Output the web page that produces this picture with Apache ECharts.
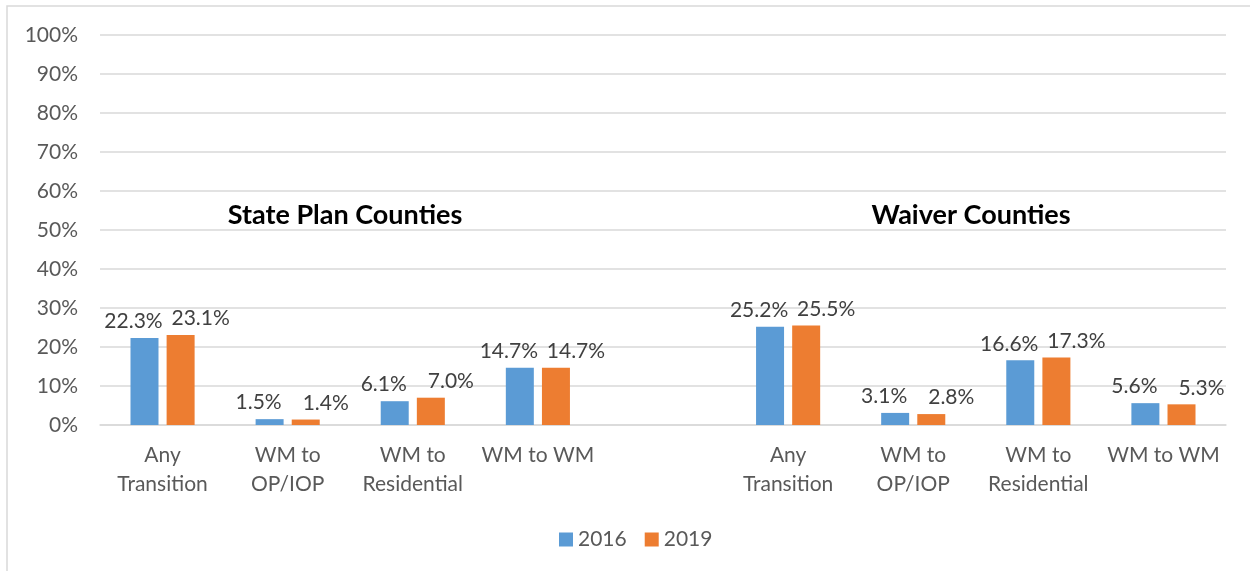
<!DOCTYPE html>
<html>
<head>
<meta charset="utf-8">
<script src="https://cdn.jsdelivr.net/npm/echarts@6/dist/echarts.min.js"></script>
<style>
  html, body { margin: 0; padding: 0; background: #fff; }
  #chart { width: 1250px; height: 571px; }
</style>
</head>
<body>
<div id="chart"></div>
<script>
// categories (5th slot is the empty gap between the two county groups)
var categories = [
  "Any\nTransition", "WM to\nOP/IOP", "WM to\nResidential", "WM to WM",
  "",
  "Any\nTransition", "WM to\nOP/IOP", "WM to\nResidential", "WM to WM"
];
var values2016 = [22.3, 1.5, 6.1, 14.7, null, 25.2, 3.1, 16.6, 5.6];
var values2019 = [23.1, 1.4, 7.0, 14.7, null, 25.5, 2.8, 17.3, 5.3];
var groupTitles = ["State Plan Counties", "Waiver Counties"];

var FONT = "Lato, 'Open Sans', sans-serif";

var chart = echarts.init(document.getElementById("chart"));

var option = {
  animation: false,
  textStyle: { fontFamily: FONT },
  grid: { left: 100, right: 24, top: 35, bottom: 146 },
  legend: {
    data: ["2016", "2019"],
    bottom: 16,
    left: 554,
    itemWidth: 14,
    itemHeight: 14,
    itemGap: 18,
    icon: "rect",
    textStyle: { fontSize: 21, color: "#595959", fontFamily: FONT }
  },
  xAxis: {
    type: "category",
    data: categories,
    axisTick: { show: false },
    axisLine: { lineStyle: { color: "#d9d9d9", width: 1.5 } },
    axisLabel: {
      interval: 0,
      margin: 16,
      fontSize: 21,
      lineHeight: 29,
      color: "#595959"
    }
  },
  yAxis: {
    type: "value",
    min: 0,
    max: 100,
    interval: 10,
    axisLine: { show: false },
    axisTick: { show: false },
    splitLine: { lineStyle: { color: "#d9d9d9", width: 1.5 } },
    axisLabel: {
      margin: 22,
      fontSize: 21,
      color: "#595959",
      formatter: "{value}%"
    }
  },
  series: [
    {
      name: "2016",
      type: "bar",
      data: values2016,
      barWidth: 28,
      barGap: "29%",
      itemStyle: { color: "#5b9bd5" },
      label: {
        show: true,
        position: "top",
        distance: 6,
        offset: [-11, 0],
        fontSize: 21,
        color: "#404040",
        formatter: function (p) { return p.value.toFixed(1) + "%"; }
      }
    },
    {
      name: "2019",
      type: "bar",
      data: values2019,
      barWidth: 28,
      itemStyle: { color: "#ed7d31" },
      label: {
        show: true,
        position: "top",
        distance: 6,
        offset: [20, 0],
        fontSize: 21,
        color: "#404040",
        formatter: function (p) { return p.value.toFixed(1) + "%"; }
      }
    }
  ],
  graphic: [
    // outer chart border
    {
      type: "rect",
      shape: { x: 7, y: 6, width: 1400, height: 700 },
      style: { fill: "none", stroke: "#d9d9d9", lineWidth: 1.5 },
      silent: true
    },
    {
      type: "text",
      x: 345,
      y: 215,
      style: {
        text: groupTitles[0],
        fontSize: 27,
        fontWeight: "bold",
        fontFamily: FONT,
        fill: "#000",
        align: "center",
        verticalAlign: "middle"
      }
    },
    {
      type: "text",
      x: 971,
      y: 215,
      style: {
        text: groupTitles[1],
        fontSize: 27,
        fontWeight: "bold",
        fontFamily: FONT,
        fill: "#000",
        align: "center",
        verticalAlign: "middle"
      }
    }
  ]
};

chart.setOption(option);
</script>
</body>
</html>
